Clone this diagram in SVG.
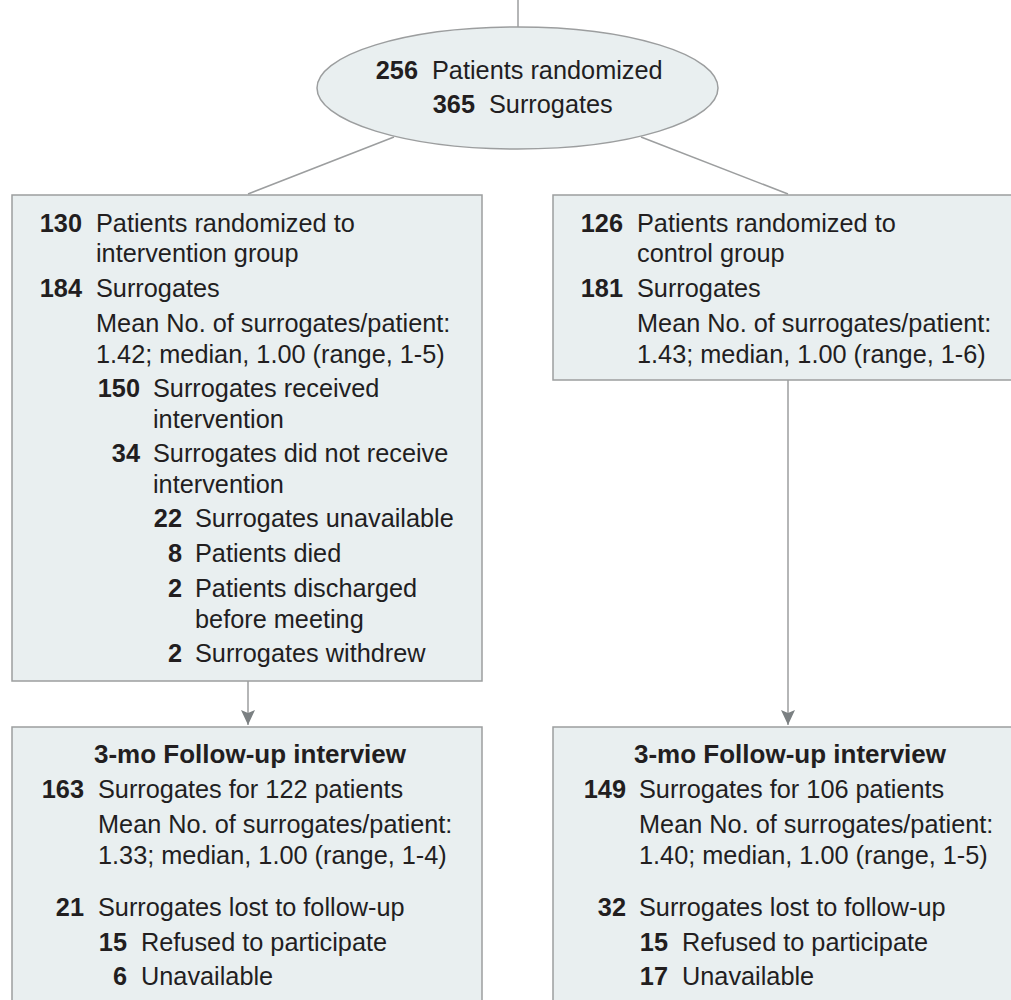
<svg xmlns="http://www.w3.org/2000/svg" width="1011" height="1000" viewBox="0 0 1011 1000">
<defs>
<marker id="arr" viewBox="0 0 15 14" refX="15" refY="7" markerWidth="15" markerHeight="14" markerUnits="userSpaceOnUse" orient="auto">
<path d="M0,0 L15,7 L0,14 L3,7 Z" fill="#7b8082"/>
</marker>
<style>
.box{fill:#e9eff0;stroke:#9c9e9f;stroke-width:1.5}
.ln{stroke:#9c9e9f;stroke-width:1.5;fill:none}
text{font-family:"Liberation Sans",Arial,sans-serif;font-size:25.3px;fill:#221e1f}
.n{font-weight:bold;text-anchor:end}
.t{font-weight:bold;font-size:26px;text-anchor:middle}
</style>
</defs>
<rect width="1011" height="1000" fill="#ffffff"/>
<g id="connectors">
<line class="ln" x1="518" y1="0" x2="518" y2="27"/>
<line class="ln" x1="394" y1="137" x2="248" y2="194"/>
<line class="ln" x1="641" y1="137" x2="788" y2="194"/>
<line class="ln" x1="248" y1="681" x2="248" y2="725" marker-end="url(#arr)"/>
<line class="ln" x1="788" y1="380" x2="788" y2="725" marker-end="url(#arr)"/>
</g>
<g id="randomized">
<ellipse class="box" cx="517.5" cy="88" rx="200.5" ry="61"/>
<text class="n" x="418" y="79">256</text><text x="432" y="79">Patients randomized</text>
<text class="n" x="475" y="113">365</text><text x="489" y="113">Surrogates</text>
</g>
<g id="intervention">
<rect class="box" x="12" y="195" width="470" height="486"/>
<text class="n" x="82" y="232">130</text><text x="96" y="232">Patients randomized to</text>
<text x="96" y="262">intervention group</text>
<text class="n" x="82" y="297">184</text><text x="96" y="297">Surrogates</text>
<text x="96" y="332">Mean No. of surrogates/patient:</text>
<text x="96" y="363">1.42; median, 1.00 (range, 1-5)</text>
<text class="n" x="140" y="397">150</text><text x="153" y="397">Surrogates received</text>
<text x="153" y="428">intervention</text>
<text class="n" x="140" y="462">34</text><text x="153" y="462">Surrogates did not receive</text>
<text x="153" y="493">intervention</text>
<text class="n" x="182" y="527">22</text><text x="195" y="527">Surrogates unavailable</text>
<text class="n" x="182" y="562">8</text><text x="195" y="562">Patients died</text>
<text class="n" x="182" y="597">2</text><text x="195" y="597">Patients discharged</text>
<text x="195" y="628">before meeting</text>
<text class="n" x="182" y="662">2</text><text x="195" y="662">Surrogates withdrew</text>
</g>
<g id="control">
<rect class="box" x="553" y="195" width="470" height="185"/>
<text class="n" x="623" y="232">126</text><text x="637" y="232">Patients randomized to</text>
<text x="637" y="262">control group</text>
<text class="n" x="623" y="297">181</text><text x="637" y="297">Surrogates</text>
<text x="637" y="332">Mean No. of surrogates/patient:</text>
<text x="637" y="363">1.43; median, 1.00 (range, 1-6)</text>
</g>
<g id="followup-intervention">
<rect class="box" x="12" y="727" width="470" height="290"/>
<text class="t" x="250" y="763">3-mo Follow-up interview</text>
<text class="n" x="84" y="798">163</text><text x="98" y="798">Surrogates for 122 patients</text>
<text x="98" y="833">Mean No. of surrogates/patient:</text>
<text x="98" y="864">1.33; median, 1.00 (range, 1-4)</text>
<text class="n" x="84" y="916">21</text><text x="98" y="916">Surrogates lost to follow-up</text>
<text class="n" x="127" y="951">15</text><text x="141" y="951">Refused to participate</text>
<text class="n" x="127" y="985">6</text><text x="141" y="985">Unavailable</text>
</g>
<g id="followup-control">
<rect class="box" x="553" y="727" width="470" height="290"/>
<text class="t" x="790" y="763">3-mo Follow-up interview</text>
<text class="n" x="626" y="798">149</text><text x="639" y="798">Surrogates for 106 patients</text>
<text x="639" y="833">Mean No. of surrogates/patient:</text>
<text x="639" y="864">1.40; median, 1.00 (range, 1-5)</text>
<text class="n" x="626" y="916">32</text><text x="639" y="916">Surrogates lost to follow-up</text>
<text class="n" x="668" y="951">15</text><text x="682" y="951">Refused to participate</text>
<text class="n" x="668" y="985">17</text><text x="682" y="985">Unavailable</text>
</g>
</svg>
